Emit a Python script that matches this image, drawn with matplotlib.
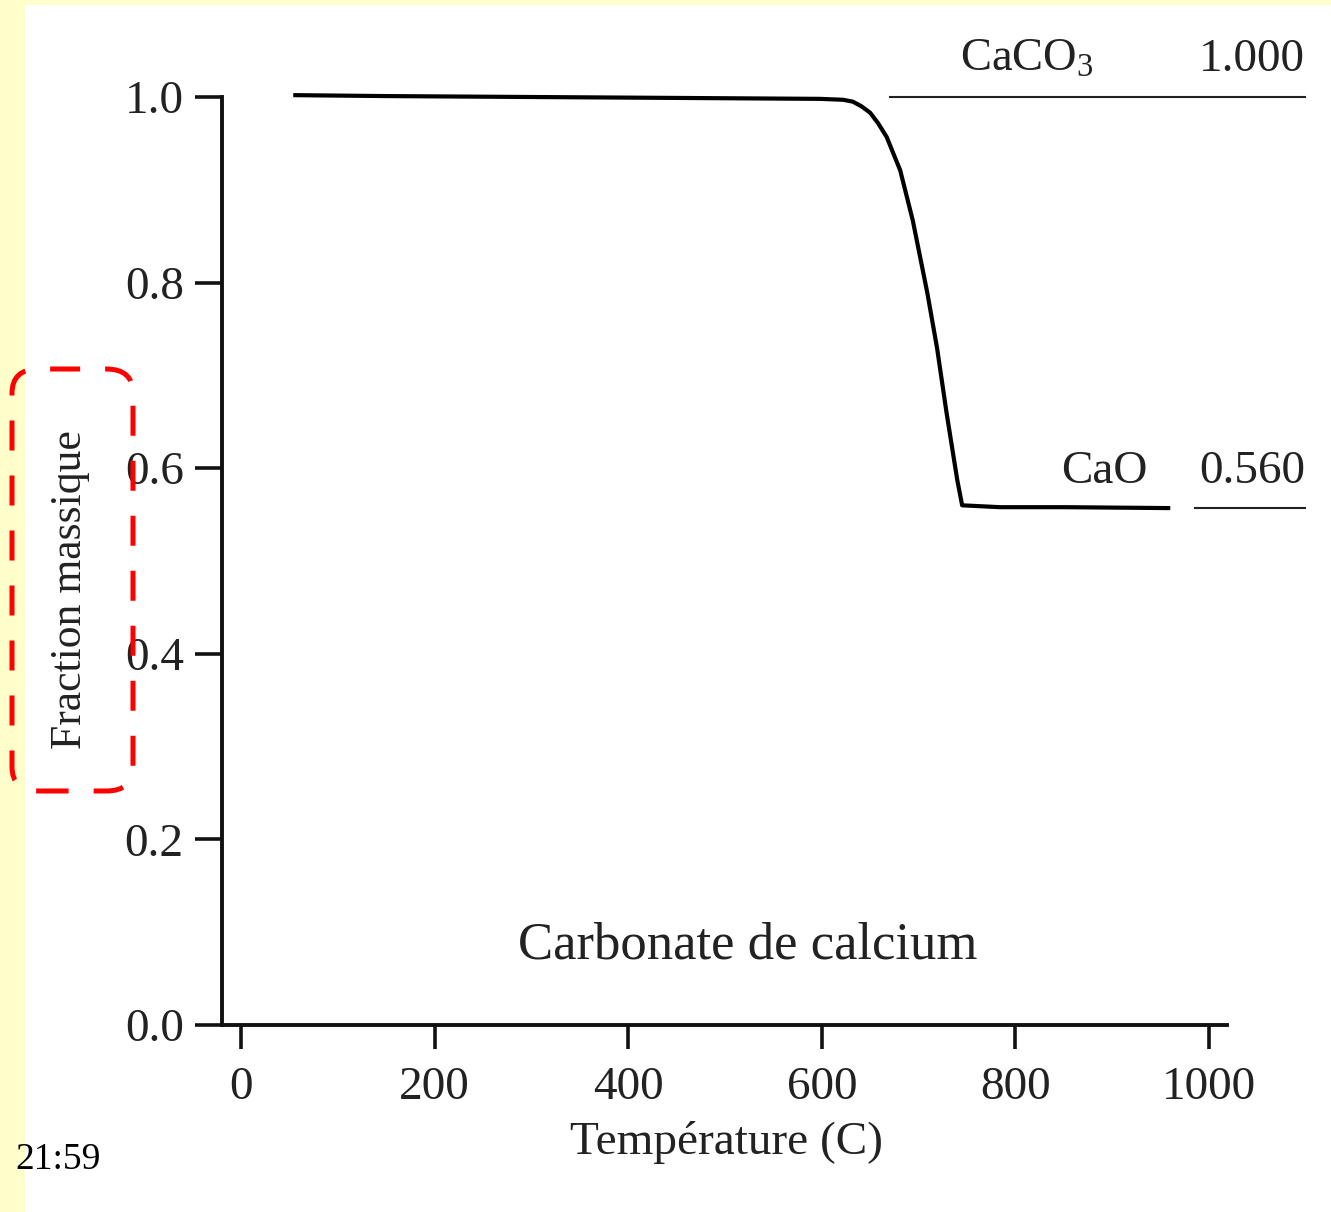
import matplotlib
matplotlib.use("Agg")
import matplotlib.pyplot as plt
from matplotlib.patches import Rectangle, FancyBboxPatch

plt.rcParams["font.family"] = ["Liberation Serif", "DejaVu Serif"]
plt.rcParams["mathtext.fontset"] = "custom"
plt.rcParams["mathtext.rm"] = "Liberation Serif"
plt.rcParams["mathtext.it"] = "Liberation Serif:italic"

# TGA curve of calcium carbonate
temperature = [54, 150, 300, 450, 598, 622, 632, 641, 650, 658, 667, 681, 694, 709, 719, 729,
               740, 745, 784, 850, 960]
mass_fraction = [1.002, 1.001, 1.000, 0.999, 0.998, 0.997, 0.995, 0.990, 0.983, 0.972, 0.957,
                 0.921, 0.867, 0.789, 0.730, 0.659, 0.587, 0.560, 0.558, 0.558, 0.557]

x_ticks = [0, 200, 400, 600, 800, 1000]
y_ticks = [0.0, 0.2, 0.4, 0.6, 0.8, 1.0]

plateau_labels = ["CaCO$_3$", "CaO"]
plateau_values = [1.000, 0.560]
plateau_text = ["1.000", "0.560"]

W, H = 1331, 1212
TXT = "#222222"


def fx(px):
    return px / W


def fy(py):
    return 1 - py / H


fig = plt.figure(figsize=(W / 100, H / 100), dpi=100, facecolor="#FFFFCC")
fig.patches.append(Rectangle((fx(25), 0), 1 - fx(25), fy(5), transform=fig.transFigure,
                             facecolor="white", edgecolor="none", zorder=-10))

ax = fig.add_axes([fx(222), fy(1025), fx(1227) - fx(222), fy(97) - fy(1025)])
ax.set_zorder(2)
ax.set_facecolor("white")
ax.set_xlim(-19.6, 1018.6)
ax.set_ylim(0, 1.0)

# the curve sits a hair above 1.0 at the start, so don't clip it
ax.plot(temperature, mass_fraction, color="black", linewidth=3.0, solid_capstyle="butt",
        solid_joinstyle="round", clip_on=False)

for s in ["top", "right"]:
    ax.spines[s].set_visible(False)
for s in ["left", "bottom"]:
    ax.spines[s].set_linewidth(2.8)
    ax.spines[s].set_color("#111111")

ax.set_xticks(x_ticks)
ax.set_xticklabels([str(t) for t in x_ticks])
ax.set_yticks(y_ticks)
ax.set_yticklabels([f"{t:.1f}" for t in y_ticks])
ax.tick_params(axis="x", direction="out", length=17, width=2.6, pad=13, labelsize=34,
               labelcolor=TXT, color="#111111")
ax.tick_params(axis="y", direction="out", length=19.5, width=2.6, pad=8, labelsize=34,
               labelcolor=TXT, color="#111111")

# plateau reference lines and labels
ax.plot([670, 1099], [plateau_values[0], plateau_values[0]], color="#222222", linewidth=1.5, clip_on=False)
ax.plot([985.5, 1099], [0.557, 0.557], color="#222222", linewidth=1.5, clip_on=False)
ax.text(812, 1.040, plateau_labels[0], ha="center", va="center", fontsize=33.5, color=TXT)
ax.text(1099, 1.040, plateau_text[0], ha="right", va="center", fontsize=34, color=TXT)
ax.text(937, 0.596, plateau_labels[1], ha="right", va="center", fontsize=34, color=TXT)
ax.text(1099, 0.596, plateau_text[1], ha="right", va="center", fontsize=34, color=TXT)

ax.text(524, 0.086, "Carbonate de calcium", ha="center", va="center", fontsize=38, color=TXT)

fig.text(fx(727), fy(1142), "Température (C)", ha="center", va="center", fontsize=34, color=TXT)
fig.text(fx(70), fy(590), "Fraction massique", ha="center", va="center", rotation=90,
         fontsize=31.5, color=TXT)

fig.text(fx(15), fy(1160), "21:59", ha="left", va="center", fontsize=27, color="black")

box = FancyBboxPatch((fx(12), fy(791)), fx(133) - fx(12), fy(369) - fy(791),
                     boxstyle="round,pad=0,rounding_size=0.02", transform=fig.transFigure,
                     facecolor="none", edgecolor="#FF0000", linewidth=3.6,
                     linestyle=(0, (6, 5)), zorder=5)
fig.patches.append(box)

fig.savefig("out.png", dpi=100, facecolor=fig.get_facecolor())
